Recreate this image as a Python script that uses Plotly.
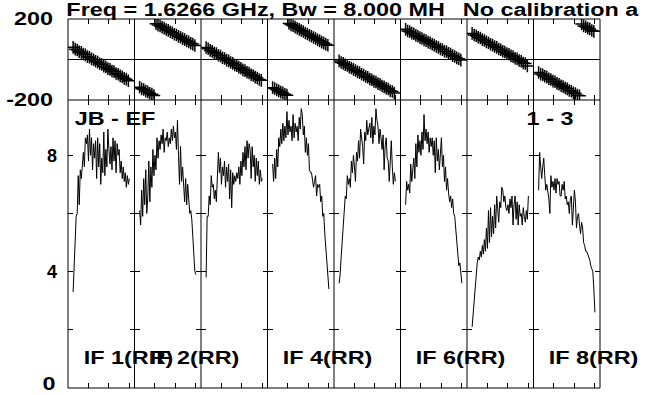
import plotly.graph_objects as go
from plotly.subplots import make_subplots

# ---------------- data ----------------
CHANNELS = list(range(5, 61))          # amplitude channels per IF
PHASE_CHANNELS = list(range(5, 60, 2))  # phase channels per IF

AMP_IF1 = [3.3, 4.3, 4.6, 5.9, 6.0, 7.3, 6.3, 7.5, 7.2, 7.6, 8.1, 7.6, 8.6, 8.4, 8.7, 7.8,
           8.9, 8.0, 8.6, 7.5, 8.4, 7.9, 8.5, 7.2, 8.6, 7.6, 8.4, 7.0, 7.9, 7.4, 8.8, 7.3,
           8.2, 7.6, 8.9, 8.2, 7.7, 8.3, 7.5, 8.6, 7.8, 8.5, 7.4, 8.4, 8.0, 8.2, 7.4, 7.8,
           7.2, 7.6, 7.1, 7.4, 6.9, 7.3, 7.0, 7.2]
AMP_IF2 = [6.1, 5.6, 6.8, 5.9, 7.2, 6.3, 7.5, 6.0, 6.6, 7.8, 6.4, 7.6, 6.9, 8.2, 7.3, 8.0,
           7.5, 8.6, 7.9, 8.5, 8.2, 8.7, 8.4, 8.9, 8.1, 8.6, 8.5, 8.8, 8.3, 8.6, 8.4, 8.9,
           8.5, 9.0, 8.6, 8.8, 8.2, 9.2, 8.0, 7.0, 8.3, 7.1, 7.6, 7.0, 6.4, 7.2, 6.3, 7.0,
           6.5, 6.0, 6.1, 5.8, 5.2, 4.6, 4.0, 3.9]
AMP_IF3 = [3.8, 5.9, 5.9, 6.6, 6.3, 7.3, 6.9, 7.0, 6.5, 6.8, 6.4, 7.2, 8.1, 7.4, 7.9, 7.0,
           7.6, 7.3, 7.8, 6.9, 7.6, 7.1, 7.7, 6.5, 7.5, 6.2, 7.4, 7.0, 7.3, 7.1, 7.4, 7.2,
           7.6, 7.0, 7.8, 7.3, 8.1, 7.6, 8.3, 7.5, 8.5, 7.9, 8.4, 8.2, 7.2, 8.3, 7.6, 8.0,
           7.1, 7.9, 7.3, 7.8, 7.0, 7.5, 7.1, 7.2]
AMP_IF4 = [7.7, 7.1, 7.9, 7.2, 8.2, 7.6, 8.6, 8.3, 8.9, 8.4, 9.1, 8.5, 9.0, 8.6, 9.5, 8.7,
           9.2, 8.8, 9.0, 8.5, 9.4, 8.6, 9.1, 8.8, 9.0, 8.5, 9.3, 8.9, 9.6, 9.4, 8.7, 9.0,
           8.1, 8.6, 8.0, 8.4, 7.5, 7.4, 7.4, 7.2, 6.9, 7.1, 7.3, 6.6, 7.0, 6.9, 7.0, 6.4,
           6.6, 5.9, 6.0, 5.3, 4.8, 4.2, 3.7, 3.4]
AMP_IF5 = [3.6, 3.9, 4.5, 5.1, 5.6, 6.4, 6.6, 6.5, 7.3, 7.0, 7.2, 6.9, 7.8, 7.4, 8.0, 7.6,
           7.1, 8.1, 7.8, 8.5, 7.9, 8.9, 8.6, 8.3, 7.7, 8.8, 8.5, 9.2, 8.7, 8.9, 9.1, 8.6,
           9.3, 8.4, 9.0, 8.7, 9.6, 9.2, 9.0, 8.4, 8.9, 8.6, 8.2, 8.7, 7.5, 8.3, 8.6, 7.9,
           7.8, 7.1, 8.0, 8.5, 7.6, 7.0, 7.4, 7.1]
AMP_IF6 = [6.3, 7.1, 6.8, 7.0, 6.7, 7.7, 7.1, 7.6, 7.9, 7.2, 8.4, 7.6, 8.7, 8.1, 8.5, 8.0,
           8.8, 8.2, 9.4, 8.5, 8.9, 8.4, 8.8, 8.1, 8.6, 8.3, 8.6, 8.0, 8.5, 7.4, 8.6, 7.8,
           8.2, 7.5, 8.2, 8.6, 7.6, 8.0, 7.1, 7.6, 6.8, 7.2, 6.7, 6.4, 6.6, 6.2, 6.5, 6.0,
           5.9, 5.5, 5.1, 4.6, 4.2, 4.3, 4.0, 3.6]
AMP_IF7 = [2.1, 2.6, 3.0, 3.5, 4.0, 4.3, 4.5, 4.4, 4.7, 4.5, 4.9, 4.6, 5.1, 4.7, 5.5, 4.8,
           6.1, 5.0, 6.2, 5.2, 5.9, 5.3, 6.3, 5.5, 6.6, 5.9, 5.7, 6.4, 6.2, 6.9, 6.8, 6.4,
           6.6, 6.2, 6.1, 6.3, 6.0, 6.5, 6.2, 6.6, 5.6, 6.3, 6.6, 5.8, 6.4, 5.6, 6.3, 5.9,
           6.0, 5.6, 6.2, 5.9, 5.7, 6.1, 5.8, 6.6]
AMP_IF8 = [6.8, 8.1, 7.6, 7.2, 7.6, 7.9, 7.3, 6.8, 7.0, 6.8, 6.5, 6.0, 7.3, 6.9, 7.1, 6.8,
           7.2, 6.7, 7.2, 7.0, 7.1, 6.6, 6.6, 7.0, 6.8, 7.1, 6.5, 6.6, 6.3, 6.4, 6.0, 6.5,
           6.6, 5.6, 6.2, 6.8, 6.4, 5.5, 5.9, 6.0, 5.6, 5.3, 5.7, 5.5, 5.0, 4.9, 4.7, 4.7,
           4.6, 4.5, 4.4, 4.2, 4.1, 4.0, 3.4, 2.6]

PH_IF1 = [60, 51, 47, 38, 35, 27, 23, 14, 11, 3, -1, -9, -13, -21, -25, -33, -37, -45,
          -49, -57, -60, -69, -73, -81, -85, -93, -97, -105]
PH_IF2 = [-137, -145, -148, -156, -160, -167, -171, -178, 177, 170, 166, 159, 155, 148,
          144, 137, 132, 125, 121, 114, 110, 103, 98, 91, 87, 80, 76, 69]
PH_IF3 = [59, 53, 45, 40, 33, 29, 21, 17, 9, 5, -3, -7, -15, -19, -27, -31, -39, -43,
          -51, -55, -63, -67, -75, -79, -87, -91, -99, -103]
PH_IF4 = [-139, -143, -150, -155, -161, -165, -172, -176, 178, 171, 167, 160, 154, 149,
          143, 138, 131, 126, 120, 115, 109, 104, 97, 92, 86, 81, 75, 70]
PH_IF5 = [-7, -15, -19, -26, -30, -38, -42, -49, -54, -61, -65, -73, -77, -84, -88, -96,
          -100, -108, -111, -119, -123, -131, -135, -142, -146, -154, -158, -166]
PH_IF6 = [149, 141, 137, 130, 127, 119, 115, 108, 104, 97, 93, 86, 82, 75, 71, 64, 60,
          52, 49, 41, 38, 30, 27, 19, 15, 8, 4, -3]
PH_IF7 = [129, 121, 117, 110, 106, 98, 94, 87, 83, 75, 71, 64, 60, 52, 48, 41, 37, 29,
          26, 18, 14, 6, 3, -5, -9, -17, -20, -32]
PH_IF8 = [-64, -72, -76, -83, -87, -95, -99, -107, -110, -118, -122, -130, -134, -141,
          -145, -153, -157, -165, -168, -176, -179, 175, 166, 162, 155, 151, 143, 139]

AMPS = [AMP_IF1, AMP_IF2, AMP_IF3, AMP_IF4, AMP_IF5, AMP_IF6, AMP_IF7, AMP_IF8]
PHASES = [PH_IF1, PH_IF2, PH_IF3, PH_IF4, PH_IF5, PH_IF6, PH_IF7, PH_IF8]

IF_LABELS = ["IF 1(RR)", "IF 2(RR)", "", "IF 4(RR)", "", "IF 6(RR)", "", "IF 8(RR)"]
AMP_TICKS = [0, 2, 4, 6, 8]
AMP_TICKTEXT = ["", "", "4", "", "8"]   # "0" is drawn separately so it stays inside the page
ZERO_LABEL = "0"
PHASE_TICKS = [-200, 200]
PHASE_TICKTEXT = ["-200", "200"]
TITLE_LEFT = "Freq = 1.6266 GHz, Bw = 8.000 MH"
TITLE_RIGHT = "No calibration a"
BASELINE = "JB - EF"
SCAN = "1 - 3"

# ---------------- figure ----------------
W, H = 645, 395
L, R, T, B = 68, 45, 19, 7
PW, PH = W - L - R, H - T - B
NCOL = 8
TOP_H = 81

FONT = dict(family="Liberation Sans, Arial, sans-serif", size=18, color="black", weight="bold")

fig = make_subplots(rows=2, cols=NCOL, horizontal_spacing=0, vertical_spacing=0,
                    row_heights=[TOP_H / PH, (PH - TOP_H) / PH])

for i in range(NCOL):
    c = i + 1
    fig.add_trace(go.Scatter(x=PHASE_CHANNELS, y=PHASES[i], mode="markers",
                             marker=dict(symbol="cross-thin", size=9, color="black",
                                         line=dict(color="black", width=1.5)),
                             showlegend=False, hoverinfo="skip"), row=1, col=c)
    fig.add_trace(go.Scatter(x=CHANNELS, y=AMPS[i], mode="lines",
                             line=dict(color="black", width=1),
                             showlegend=False, hoverinfo="skip"), row=2, col=c)
    for r in (1, 2):
        fig.update_xaxes(range=[0, 65], tickvals=[20, 40, 60], ticks="inside", ticklen=5,
                         tickcolor="black", tickwidth=1, showticklabels=False,
                         showline=False, mirror="ticks", automargin=False,
                         showgrid=False, zeroline=False, row=r, col=c)
    fig.update_yaxes(range=[-200, 200], tickvals=PHASE_TICKS, ticktext=PHASE_TICKTEXT,
                     ticks="", showticklabels=(c == 1), tickfont=FONT,
                     ticklabelstandoff=14, automargin=False, ticklabeloverflow="allow",
                     showline=False, showgrid=False, zeroline=True, zerolinecolor="black",
                     zerolinewidth=1, row=1, col=c)
    fig.update_yaxes(range=[0, 9.9], tickvals=AMP_TICKS, ticktext=AMP_TICKTEXT,
                     ticks="inside", ticklen=5, tickcolor="black", tickwidth=1,
                     showticklabels=(c == 1), tickfont=FONT, ticklabelstandoff=10,
                     automargin=False, ticklabeloverflow="allow",
                     showline=False, mirror="ticks",
                     showgrid=False, zeroline=False, row=2, col=c)


def px_x(px):
    return (px - L) / PW


def px_y(py):
    return (H - B - py) / PH


# panel frame lines
shapes = []
line_style = dict(color="black", width=1)
for i in range(NCOL + 1):
    shapes.append(dict(type="line", xref="paper", yref="paper", x0=i / NCOL, x1=i / NCOL,
                       y0=0, y1=1, line=line_style, layer="above"))
for yv in (0, 1, (PH - TOP_H) / PH):
    shapes.append(dict(type="line", xref="paper", yref="paper", x0=0, x1=1,
                       y0=yv, y1=yv, line=line_style, layer="above"))

ann = []
def add_text(txt, cx, cy):
    ann.append(dict(text=txt, xref="paper", yref="paper", x=px_x(cx), y=px_y(cy),
                    xanchor="center", yanchor="middle", showarrow=False, font=FONT))

add_text(TITLE_LEFT, 255, 10)
add_text(TITLE_RIGHT, 551, 10)
add_text(BASELINE, 115, 119)
add_text(SCAN, 550, 119)
add_text(ZERO_LABEL, 49, 384)
sub_w = PW / NCOL
for i, lab in enumerate(IF_LABELS):
    if lab:
        add_text(lab, L + i * sub_w + 60, 358)

fig.update_layout(template="none", width=W, height=H,
                  margin=dict(l=L, r=R, t=T, b=B, pad=0),
                  paper_bgcolor="white", plot_bgcolor="white",
                  annotations=ann, shapes=shapes, showlegend=False)

post = """
(function(){
  document.documentElement.style.margin = '0';
  document.documentElement.style.padding = '0';
  document.body.style.margin = '0';
  document.body.style.padding = '0';
  document.body.style.overflow = 'hidden';
  var gd = document.getElementById('{plot_id}');
  function stretch(){
    var els = gd.querySelectorAll('.annotation-text, .ytick text');
    els.forEach(function(el){
      if (el.getAttribute('data-st')) return;
      var w = el.getComputedTextLength();
      if (w > 0) {
        el.setAttribute('textLength', (w * 1.3).toFixed(2));
        el.setAttribute('lengthAdjust', 'spacingAndGlyphs');
        el.setAttribute('data-st', '1');
      }
    });
  }
  stretch();
  if (gd.on) gd.on('plotly_afterplot', stretch);
})();
"""
fig.write_html("out.html", post_script=post, config={"displayModeBar": False})
